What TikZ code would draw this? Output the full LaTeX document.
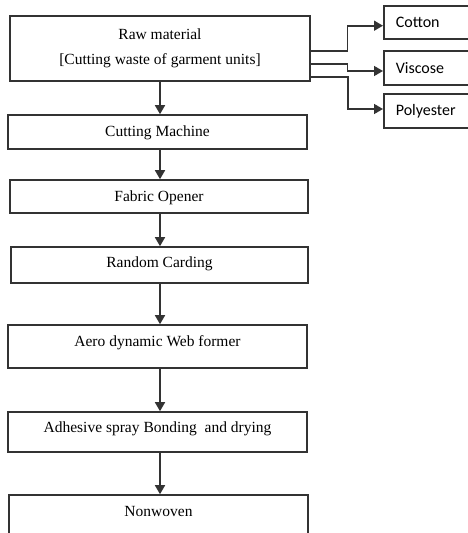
\documentclass[tikz,border=0pt]{standalone}
\usepackage{fontspec}
\setmainfont{Liberation Serif}
\newfontfamily\sidefont{Carlito}
\usetikzlibrary{arrows.meta}
\begin{document}
\begin{tikzpicture}[x=1pt,y=-1pt,
  ln/.style={draw=black!80, line width=1.6pt},
  mainbox/.style={ln, rectangle, inner sep=0pt, text=black, font=\fontsize{15.5}{18}\selectfont},
  tb/.style={text height=11pt, text depth=#1},
  sidebox/.style={ln, rectangle, anchor=west, minimum height=33.5pt, inner xsep=12pt, inner ysep=0pt, text width=73pt, align=left, text=black, font=\sidefont\fontsize{16}{19}\selectfont},
  arr/.style={ln, -{Triangle[length=9pt,width=10pt]}}]
\clip (0,0) rectangle (468,533);
\coordinate (ax) at (160,0);
% main column
\node[mainbox, minimum width=300pt, minimum height=65pt, align=center, font=\fontsize{15.5}{25}\selectfont] (raw) at (160,48.5) {Raw material\\{[}Cutting waste of garment units{]}};
\node[mainbox, tb=1.4pt, minimum width=299pt, minimum height=34pt] (cut) at (157.5,132) {Cutting Machine};
\node[mainbox, tb=1pt, minimum width=298pt, minimum height=33pt] (fab) at (159,196.5) {Fabric Opener};
\node[mainbox, tb=5.4pt, minimum width=297pt, minimum height=36pt] (card) at (159.5,265) {Random Carding};
\node[mainbox, tb=10.4pt, minimum width=299pt, minimum height=43pt] (aero) at (157.5,346.5) {Aero dynamic Web former};
\node[mainbox, tb=9.4pt, minimum width=299pt, minimum height=40pt] (adh) at (157.5,432) {Adhesive spray Bonding\ \ and drying};
\node[mainbox, tb=17.4pt, minimum width=299pt, minimum height=50pt] (non) at (158.5,520) {Nonwoven};
% side boxes
\node[sidebox] (cot) at (383,22.5) {Cotton};
\node[sidebox] (vis) at (383,68) {Viscose};
\node[sidebox] (pol) at (383,111) {Polyester};
% main arrows
\draw[arr] (raw.south -| ax) -- (cut.north -| ax);
\draw[arr] (cut.south -| ax) -- (fab.north -| ax);
\draw[arr] (fab.south -| ax) -- (card.north -| ax);
\draw[arr] (card.south -| ax) -- (aero.north -| ax);
\draw[arr] (aero.south -| ax) -- (adh.north -| ax);
\draw[arr] (adh.south -| ax) -- (non.north -| ax);
% side connectors
\draw[arr] ([yshift=-2.2pt]raw.east) -- ++(36.7,0) |- ([yshift=-3.2pt]cot.west);
\draw[arr] ([yshift=-15.5pt]raw.east) -- ++(36.7,0) |- ([yshift=-3pt]vis.west);
\draw[arr] ([yshift=-28.2pt]raw.east) -- ++(37,0) |- ([yshift=2pt]pol.west);
\end{tikzpicture}
\end{document}
